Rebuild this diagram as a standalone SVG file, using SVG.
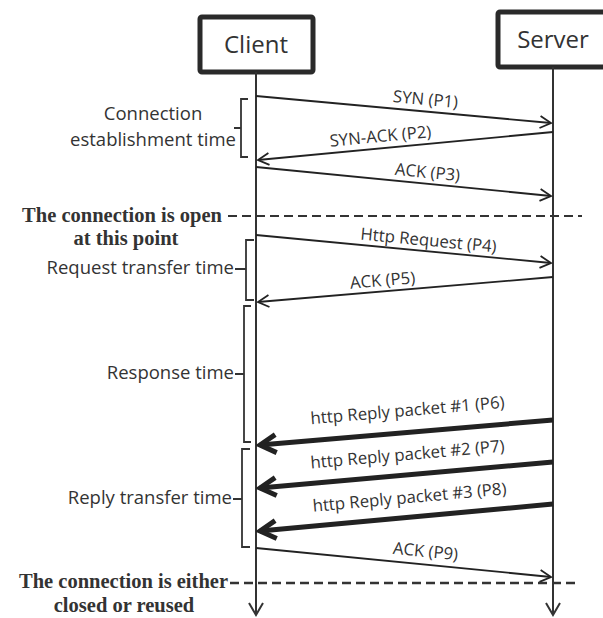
<svg xmlns="http://www.w3.org/2000/svg" width="603" height="618" viewBox="0 0 603 618">
<defs>
<style>
.box{fill:#fff;stroke:#2a2a2a;stroke-width:5}
.life{stroke:#333;stroke-width:2;fill:none}
.msg{stroke:#222;stroke-width:1.8;fill:none}
.thick{stroke:#222;stroke-width:5;fill:none}
.brk{stroke:#333;stroke-width:1.8;fill:none}
.dash{stroke:#333;stroke-width:2;stroke-dasharray:9,5;fill:none}
.t{font-family:"Open Sans","Noto Sans",sans-serif;fill:#333;font-size:18.5px}
.lbl{font-family:"Open Sans","Noto Sans",sans-serif;fill:#333;font-size:16.8px;text-anchor:middle}
.hd{font-family:"Open Sans","Noto Sans",sans-serif;fill:#333;font-size:24px;text-anchor:middle}
.bs{font-family:"Liberation Serif",serif;font-weight:bold;fill:#333;font-size:20.5px}
</style>
<marker id="open" markerWidth="14" markerHeight="14" refX="12" refY="7" orient="auto" markerUnits="userSpaceOnUse">
<path d="M1,1 L12,7 L1,13" fill="none" stroke="#222" stroke-width="1.8"/>
</marker>
<marker id="bold" markerWidth="24" markerHeight="24" refX="20" refY="12" orient="auto" markerUnits="userSpaceOnUse">
<path d="M4,3 L20,12 L4,21" fill="none" stroke="#222" stroke-width="5" stroke-linejoin="miter"/>
</marker>
</defs>
<rect width="603" height="618" fill="#fff"/>
<g id="client">
<rect class="box" x="200" y="17" width="113" height="55" rx="2"/>
<text class="hd" x="256" y="53">Client</text>
</g>
<g id="server">
<rect class="box" x="498" y="12" width="120" height="55" rx="2"/>
<text class="hd" x="553" y="48">Server</text>
</g>
<g id="lifelines">
<line class="life" x1="256" y1="72" x2="256" y2="614"/>
<path class="life" d="M249,603 L256,615 L263,603"/>
<line class="life" x1="553" y1="67" x2="553" y2="614"/>
<path class="life" d="M546,603 L553,615 L560,603"/>
</g>
<g id="connectors">
<line class="msg" x1="256" y1="96" x2="551" y2="123" marker-end="url(#open)"/>
<line class="msg" x1="553" y1="132" x2="258" y2="160" marker-end="url(#open)"/>
<line class="msg" x1="256" y1="167" x2="551" y2="196" marker-end="url(#open)"/>
<line class="msg" x1="256" y1="235" x2="551" y2="263" marker-end="url(#open)"/>
<line class="msg" x1="553" y1="277" x2="258" y2="302" marker-end="url(#open)"/>
<line class="thick" x1="553" y1="420" x2="260" y2="445" marker-end="url(#bold)"/>
<line class="thick" x1="553" y1="462" x2="260" y2="488" marker-end="url(#bold)"/>
<line class="thick" x1="553" y1="504" x2="260" y2="531" marker-end="url(#bold)"/>
<line class="msg" x1="256" y1="548" x2="551" y2="577" marker-end="url(#open)"/>
<line class="dash" x1="228" y1="216" x2="582" y2="216"/>
<line class="dash" x1="230" y1="583" x2="580" y2="583" style="stroke-width:2.6"/>
</g>
<g id="labels">
<text class="lbl" transform="translate(425,105) rotate(5.2)">SYN (P1)</text>
<text class="lbl" transform="translate(381,142) rotate(-5.4)">SYN-ACK (P2)</text>
<text class="lbl" transform="translate(427,178) rotate(5.6)">ACK (P3)</text>
<text class="lbl" transform="translate(428,246) rotate(5.4)">Http Request (P4)</text>
<text class="lbl" transform="translate(383,286) rotate(-4.8)">ACK (P5)</text>
<text class="lbl" transform="translate(408,416) rotate(-4.8)">http Reply packet #1 (P6)</text>
<text class="lbl" transform="translate(408,460) rotate(-5)">http Reply packet #2 (P7)</text>
<text class="lbl" transform="translate(410,503) rotate(-5.2)">http Reply packet #3 (P8)</text>
<text class="lbl" transform="translate(425,557) rotate(5.6)">ACK (P9)</text>
</g>
<g id="bracket-connection">
<path class="brk" d="M248,99 L241,99 L241,157 L248,157 M241,128 L234,128"/>
<text class="t" x="153" y="120" text-anchor="middle">Connection</text>
<text class="t" x="236" y="146" text-anchor="end">establishment time</text>
</g>
<g id="bracket-request">
<path class="brk" d="M254,240 L246,240 L246,300 L254,300 M246,269 L235,269"/>
<text class="t" x="234" y="274" text-anchor="end">Request transfer time</text>
</g>
<g id="bracket-response">
<path class="brk" d="M251,306 L244,306 L244,442 L251,442 M244,374 L235,374"/>
<text class="t" x="234" y="379" text-anchor="end">Response time</text>
</g>
<g id="bracket-reply">
<path class="brk" d="M250,449 L242,449 L242,547 L250,547 M242,499 L233,499"/>
<text class="t" x="232" y="504" text-anchor="end">Reply transfer time</text>
</g>
<g id="notes">
<text class="bs" x="222" y="222" text-anchor="end">The connection is open</text>
<text class="bs" x="126" y="245" text-anchor="middle">at this point</text>
<text class="bs" x="228" y="588" text-anchor="end">The connection is either</text>
<text class="bs" x="124" y="612" text-anchor="middle">closed or reused</text>
</g>
</svg>
